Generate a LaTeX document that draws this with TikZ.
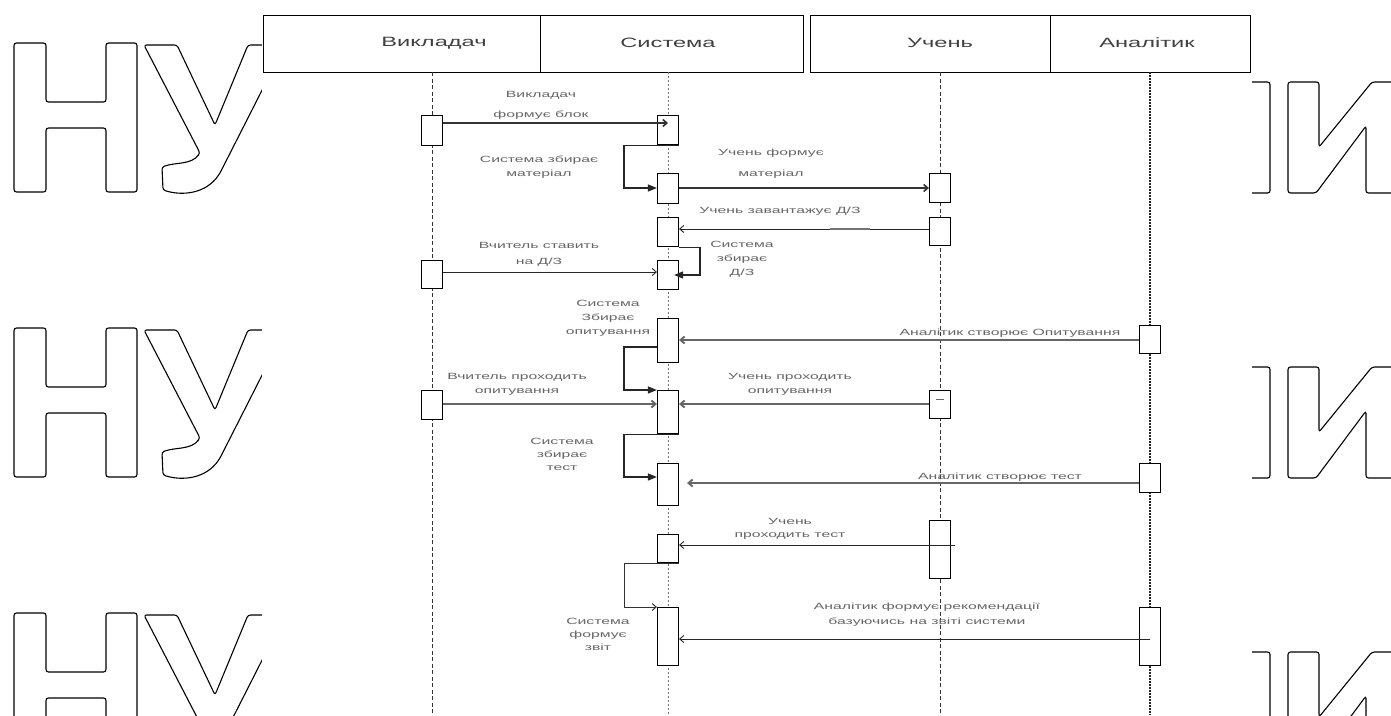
\documentclass[tikz,border=0pt]{standalone}
\usepackage{fontspec}
\setmainfont{Liberation Sans}
\usetikzlibrary{arrows.meta}

% stretched multi-line label text
\newcommand\wtext[2][14]{\scalebox{1.75}[1]{\fontsize{9}{#1}\selectfont\begin{tabular}{@{}c@{}}#2\end{tabular}}}
\newcommand\htext[1]{\scalebox{1.75}[1]{\fontsize{13.5}{16}\selectfont #1}}

\tikzset{
  wm/.style={line width=1.1pt, draw=black, rounded corners=2.5pt},
  head/.style={draw=black, line width=1.3pt, minimum height=57pt, inner sep=0pt, anchor=north west},
  headtxt/.style={text=black!75, inner sep=0pt},
  lbl/.style={text=black!60, inner sep=0pt},
  act/.style={draw=black, line width=1.2pt, fill=white, minimum width=21pt, inner sep=0pt, anchor=north},
  life/.style={line width=1pt, draw=black!80, dash pattern=on 4pt off 2.5pt},
  lifesys/.style={line width=0.9pt, draw=black!55, dash pattern=on 2pt off 2pt},
  lifedense/.style={line width=1.5pt, draw=black!85, dash pattern=on 2pt off 1pt},
  msg/.style={-{Straight Barb[length=4pt,width=7pt]}},
  msgdark/.style={msg, line width=1.6pt, draw=black!80},
  msgthick/.style={msg, line width=1.9pt, draw=black!60},
  msgthin/.style={msg, line width=0.9pt, draw=black!85},
  selfcall/.style={line width=1.4pt, draw=black!85, -{Triangle[length=9pt,width=7pt]}},
  selfthin/.style={line width=1pt, draw=black!80, -{Straight Barb[length=4pt,width=7pt]}},
}

\begin{document}
\begin{tikzpicture}[x=1pt, y=-1pt]
\useasboundingbox (0,0) rectangle (1391,715);
\fill[white] (0,0) rectangle (1391,715);

% background lettering, left and right margins
\foreach \dy in {0,285,570}{
  \begin{scope}[shift={(0,\dy)}]
    % Н
    \draw[wm] (14,43) -- (46,43) -- (46,102) -- (106,102) -- (106,43) -- (137,43)
      -- (137,192) -- (106,192) -- (106,128) -- (46,128) -- (46,192) -- (14,192) -- cycle;
    % У
    \draw[wm] (144,45) -- (177,45) -- (215,125) -- (248,45) -- (285,45)
      -- (220,173) .. controls (206,194) and (182,196) .. (163,190)
      -- (162,167) .. controls (176,162) and (191,165) .. (200,153) -- cycle;
    % right-hand fragments
    \draw[wm] (1252,82) -- (1270,82) -- (1270,193) -- (1252,193);
    \draw[wm] (1400,82) -- (1372,82) -- (1319,147) -- (1319,82) -- (1288,82)
      -- (1288,193) -- (1316,193) -- (1366,126) -- (1366,193) -- (1400,193);
  \end{scope}
}
\fill[white] (262,0) rectangle (1250,715);

% header
\node[head, minimum width=277pt] (hv) at (263,15) {};
\node[head, minimum width=263pt] (hs) at (540,15) {};
\node[head, minimum width=240pt] (hu) at (810,15) {};
\node[head, minimum width=200pt] (ha) at (1050,15) {};
\node[headtxt] (tv) at (434,43) {\htext{Викладач}};
\node[headtxt] (ts) at (668,43) {\htext{Система}};
\node[headtxt] (tu) at (940,43) {\htext{Учень}};
\node[headtxt] (ta) at (1147,43) {\htext{Аналітик}};

% lifelines
\coordinate (lv0) at (432,72); \coordinate (lv1) at (432,715);
\coordinate (ls0) at (668,72); \coordinate (ls1) at (668,715);
\coordinate (lu0) at (940,72); \coordinate (lu1) at (940,715);
\coordinate (la0) at (1150,72); \coordinate (la1) at (1150,715);
\draw[life] (lv0) -- (lv1);
\draw[lifesys] (ls0) -- (ls1);
\draw[life] (lu0) -- (lu1);
\draw[lifedense] (la0) -- (la1);

% activation bars
\node[act, minimum height=30pt] (v1) at (432,115) {};
\node[act, minimum height=28pt] (v2) at (432,260) {};
\node[act, minimum height=29pt] (v3) at (432,390) {};

\node[act, minimum height=29pt] (s1) at (668,115) {};
\node[act, minimum height=30pt] (s2) at (668,173) {};
\node[act, minimum height=29pt] (s3) at (668,217) {};
\node[act, minimum height=29pt] (s4) at (668,260) {};
\node[act, minimum height=44pt] (s5) at (668,318) {};
\node[act, minimum height=43pt] (s6) at (668,390) {};
\node[act, minimum height=42pt] (s7) at (668,463) {};
\node[act, minimum height=28pt] (s8) at (668,534) {};
\node[act, minimum height=58pt] (s9) at (668,607) {};

\node[act, minimum height=29pt] (u1) at (940,173) {};
\node[act, minimum height=28pt] (u2) at (940,217) {};
\node[act, minimum height=28pt] (u3) at (940,390) {};
\node[act, minimum height=58pt] (u4) at (940,520) {};

\node[act, minimum height=28pt] (a1) at (1150,325) {};
\node[act, minimum height=29pt] (a2) at (1150,463) {};
\node[act, minimum height=58pt] (a3) at (1150,607) {};

% message rows
\coordinate (m1) at (0,123);
\coordinate (m3) at (0,188);
\coordinate (m4) at (0,229);
\coordinate (m5) at (0,275);
\coordinate (m6) at (0,272);
\coordinate (m7) at (0,340);
\coordinate (m8) at (0,347);
\coordinate (m9) at (0,404);
\coordinate (m11) at (0,477);
\coordinate (m12) at (0,483);
\coordinate (m13) at (0,545);
\coordinate (m15) at (0,639);
\coordinate (lx) at (624,0);
\coordinate (rx) at (700,0);

% messages
\draw[msgdark] (v1.east |- m1) -- (ls0 |- m1);
\draw[msgdark] (s2.east |- m3) -- (u1.west |- m3);
\draw[msgthin] (u2.west |- m4) -- (s3.east |- m4);
\draw[line width=2.6pt, draw=black!55] (830,229) -- (870,229);
\draw[msgthin] (v2.east |- m6) -- (s4.west |- m6);
\draw[msgthick] (a1.west |- m7) -- (s5.east |- m7);
\draw[msgthick] (v3.east |- m9) -- (s6.west |- m9);
\draw[msgthick] (u3.west |- m9) -- (s6.east |- m9);
\draw[line width=1pt, draw=black!60] (936,399) -- (944,399);
\draw[msgthick] (a2.west |- m12) -- ([xshift=8pt]s7.east |- m12);
\draw[msgthin] ([xshift=4pt]u4.east |- m13) -- (s8.east |- m13);
\draw[msgthin] (la0 |- m15) -- (s9.east |- m15);

% calls of the system to itself
\draw[selfcall] (s1.south east) -- (s1.south east -| lx) |- (s2.west |- m3);
\draw[selfcall] (s3.south east) -- (s3.south east -| rx) |- ([xshift=-5pt]s4.east |- m5);
\draw[selfcall] (s5.west |- m8) -- (lx |- m8) |- (s6.north west);
\draw[selfcall] (s6.south east) -- (s6.south east -| lx) |- (s7.west |- m11);
\draw[selfthin] (s8.south east) -- (s8.south east -| lx) |- (s9.north west);

% labels
\node[lbl] (l1) at (541,103) {\wtext[20]{Викладач\\формує блок}};
\node[lbl] (l2) at (539,167) {\wtext{Система збирає\\матеріал}};
\node[lbl] (l3) at (771,162) {\wtext[21]{Учень формує\\матеріал}};
\node[lbl] (l4) at (780,211) {\wtext{Учень завантажує Д/З}};
\node[lbl] (l5) at (742,259) {\wtext[14]{Система\\збирає\\Д/З}};
\node[lbl] (l6) at (539,253) {\wtext[16]{Вчитель ставить\\на Д/З}};
\node[lbl] (l7) at (608,318) {\wtext[14]{Система\\Збирає\\опитування}};
\node[lbl] (l8) at (1010,333) {\wtext{Аналітик створює Опитування}};
\node[lbl] (l9) at (517,384) {\wtext{Вчитель проходить\\опитування}};
\node[lbl] (l10) at (790,384) {\wtext{Учень проходить\\опитування}};
\node[lbl] (l11) at (562,455) {\wtext[13]{Система\\збирає\\тест}};
\node[lbl] (l12) at (1000,477) {\wtext{Аналітик створює тест}};
\node[lbl] (l13) at (790,528) {\wtext[13]{Учень\\проходить тест}};
\node[lbl] (l14) at (927,614) {\wtext[15]{Аналітик формує рекомендації\\базуючись на звіті системи}};
\node[lbl] (l15) at (598,635) {\wtext[13]{Система\\формує\\звіт}};
\end{tikzpicture}
\end{document}
